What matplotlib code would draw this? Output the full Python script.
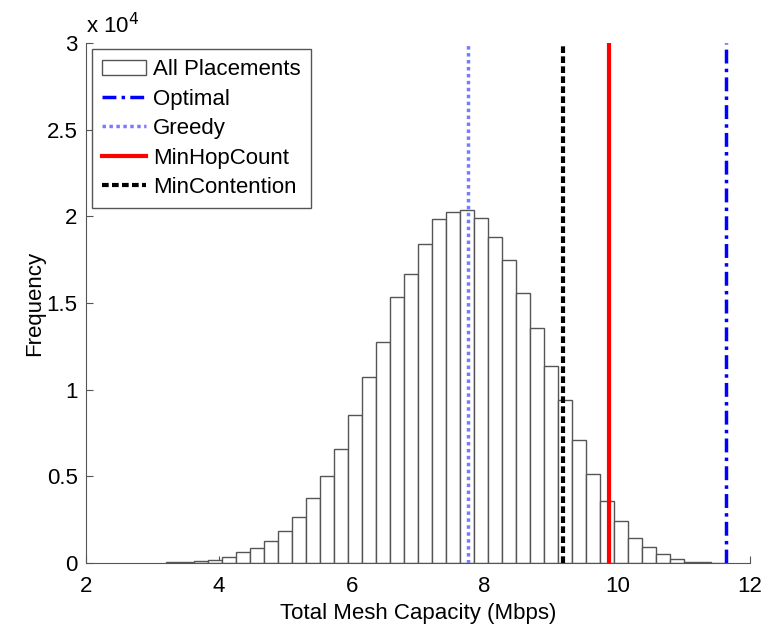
import numpy as np
import matplotlib
matplotlib.use("Agg")
import matplotlib.pyplot as plt
from matplotlib.patches import Patch
from matplotlib.lines import Line2D

plt.rcParams['font.family'] = ['Liberation Sans', 'DejaVu Sans']

# Histogram data (40 bins)
bin_start = 3.21
bin_width = 0.2105
counts = [40, 60, 100, 170, 330, 615, 865, 1290, 1830, 2650,
          3730, 5040, 6600, 8560, 10730, 12750, 15330, 16700, 18410, 19870,
          20250, 20350, 19910, 18810, 17460, 15580, 13580, 11390, 9430, 7080,
          5120, 3600, 2420, 1460, 920, 500, 250, 80, 40, 20]

# Placement strategies
strategies = ['Optimal', 'Greedy', 'MinHopCount', 'MinContention']
capacities = [11.64, 7.76, 9.88, 9.18]

xticks = [2, 4, 6, 8, 10, 12]
yticks = [0, 5000, 10000, 15000, 20000, 25000, 30000]
ytick_labels = ['0', '0.5', '1', '1.5', '2', '2.5', '3']

FS = 16

fig = plt.figure(figsize=(7.69, 6.26), dpi=100)
ax = fig.add_axes([0.1118, 0.1006, 0.8635, 0.8307])

edges = bin_start + bin_width * np.arange(len(counts) + 1)
ax.bar(edges[:-1], counts, width=bin_width, align='edge',
       facecolor='white', edgecolor='#555555', linewidth=1.0, zorder=2)

styles = {
    'Optimal': dict(color='#0000ff', linestyle=(0, (4, 1.5, 1, 1.5)), linewidth=2.5),
    'Greedy': dict(color='#7a7aff', linestyle=(0, (1, 1)), linewidth=2.5),
    'MinHopCount': dict(color='#ff0000', linestyle='-', linewidth=3.0),
    'MinContention': dict(color='#000000', linestyle=(0, (1.6, 0.8)), linewidth=3.0),
}
for name, cap in zip(strategies, capacities):
    ax.plot([cap, cap], [0, 30000], zorder=3, **styles[name])

ax.set_xlim(2, 12)
ax.set_ylim(0, 30000)
ax.set_xticks(xticks)
ax.set_xticklabels([str(t) for t in xticks])
ax.set_yticks(yticks)
ax.set_yticklabels(ytick_labels)
ax.tick_params(direction='in', labelsize=FS, length=5, color='#555555')
ax.tick_params(axis='x', pad=9)
ax.tick_params(axis='y', pad=6)
ax.spines['top'].set_visible(False)
ax.spines['right'].set_visible(False)
for s in ['left', 'bottom']:
    ax.spines[s].set_color('#555555')

ax.set_xlabel('Total Mesh Capacity (Mbps)', fontsize=FS, labelpad=5)
ax.set_ylabel('Frequency', fontsize=FS, labelpad=1)
ax.text(0.0, 1.01, r'x 10$^4$', transform=ax.transAxes, fontsize=FS,
        ha='left', va='bottom')

handles = [Patch(facecolor='white', edgecolor='#555555', linewidth=1.0)]
labels = ['All Placements']
for name in strategies:
    handles.append(Line2D([], [], **styles[name]))
    labels.append(name)
leg = ax.legend(handles, labels, loc='upper left', fontsize=FS,
                bbox_to_anchor=(0.009, 0.988), fancybox=False,
                edgecolor='#555555', framealpha=1, handlelength=2.0,
                handletextpad=0.3, labelspacing=0.38, borderpad=0.45,
                borderaxespad=0)
leg.get_frame().set_linewidth(1.0)

fig.savefig('out.png', dpi=100)
